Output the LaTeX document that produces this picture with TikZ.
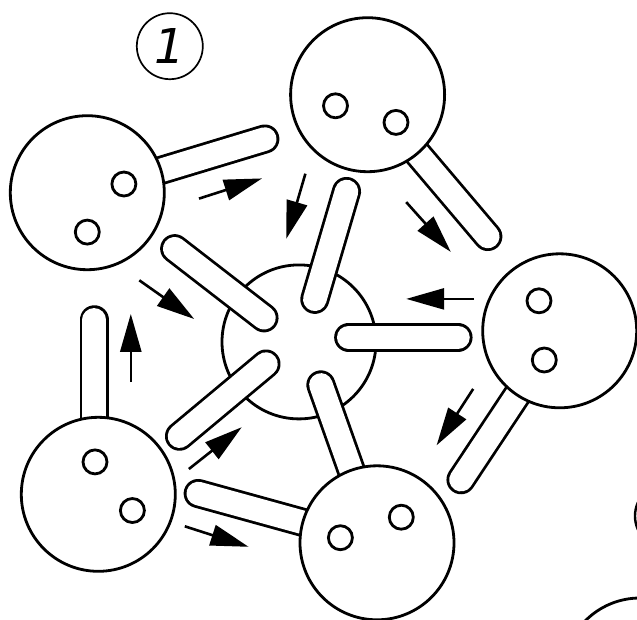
\documentclass[tikz,border=0pt]{standalone}
\usepackage{fontspec}
\newfontfamily\numfont{DejaVu Sans}
\usetikzlibrary{arrows.meta}
\begin{document}
\begin{tikzpicture}[x=1pt,y=-1pt,line width=2.8pt,
    rod/.style={double=white, double distance=23.5pt, line cap=round},
    ball/.style={fill=white},
    flow/.style={line width=2.6pt, -{Triangle[length=38pt,width=21pt]}}]
  \fill[white] (0,0) rectangle (637,619);
  \useasboundingbox (0,0) rectangle (637,619);
  \clip (0,0) rectangle (637,619);
  % centres of the big balls
  \coordinate (mid) at (299,341.9);
  \coordinate (top) at (367.6,94.7);
  \coordinate (left) at (87.3,192.7);
  \coordinate (right) at (559.7,330.8);
  \coordinate (lowleft) at (98.3,494.3);
  \coordinate (bottom) at (377,542.8);
  \draw[ball] (mid) circle (77pt);
  % rods
  \draw[rod] (left) -- (264.8,139);
  \draw[rod] (top) -- (487.8,236.5);
  \draw[rod] (right) -- (461,479.7);
  \draw[rod] (bottom) -- (198.2,493.5);
  \draw[rod] (94.2,450) -- (94.2,319.8);
  \draw[rod] (bottom) -- (320.9,384.9);
  \foreach \ax/\ay/\bx/\by in {174.7/248.7/264/317.8, 314.8/299.3/346.5/191.5,
                               348.7/337.3/458/337.3, 266/364/179.5/436.2}
      \draw[rod] (\ax,\ay) -- (\bx,\by);
  % outer balls with their two holes
  \foreach \c/\ax/\ay/\bx/\by in {top/335.5/105.8/396/122.4, left/123.9/184/87.3/232.1,
                                  right/539/300.8/544.3/360, lowleft/95/461.9/132.4/510.5,
                                  bottom/340.4/537.7/401.3/517.2} {
      \draw[ball] (\c) circle (77pt);
      \draw (\ax,\ay) circle (12pt) (\bx,\by) circle (12pt);
  }
  % arrows
  \foreach \ax/\ay/\bx/\by in {199/198.6/262/178.4, 305.4/173.7/286.3/238.8,
                               406.2/202.1/450.8/251.9, 474/298.9/406.2/298.9,
                               473.2/388.9/436.6/445.3, 184.8/526.3/248.6/546.8,
                               188.9/469/241.7/427.2, 130.8/382.2/130.8/313.9,
                               139.3/280.3/194.2/319}
      \draw[flow] (\ax,\ay) -- (\bx,\by);
  \node[circle, draw, line width=1.7pt, minimum size=66pt, inner sep=0pt,
        font=\numfont\fontsize{48}{48}\selectfont\itshape] (one) at (169.8,46.2) {1};
  % cut off at the border
  \draw[line width=2.4pt] (668,516) circle (33pt);
  \draw (640,675) circle (77pt);
\end{tikzpicture}
\end{document}
